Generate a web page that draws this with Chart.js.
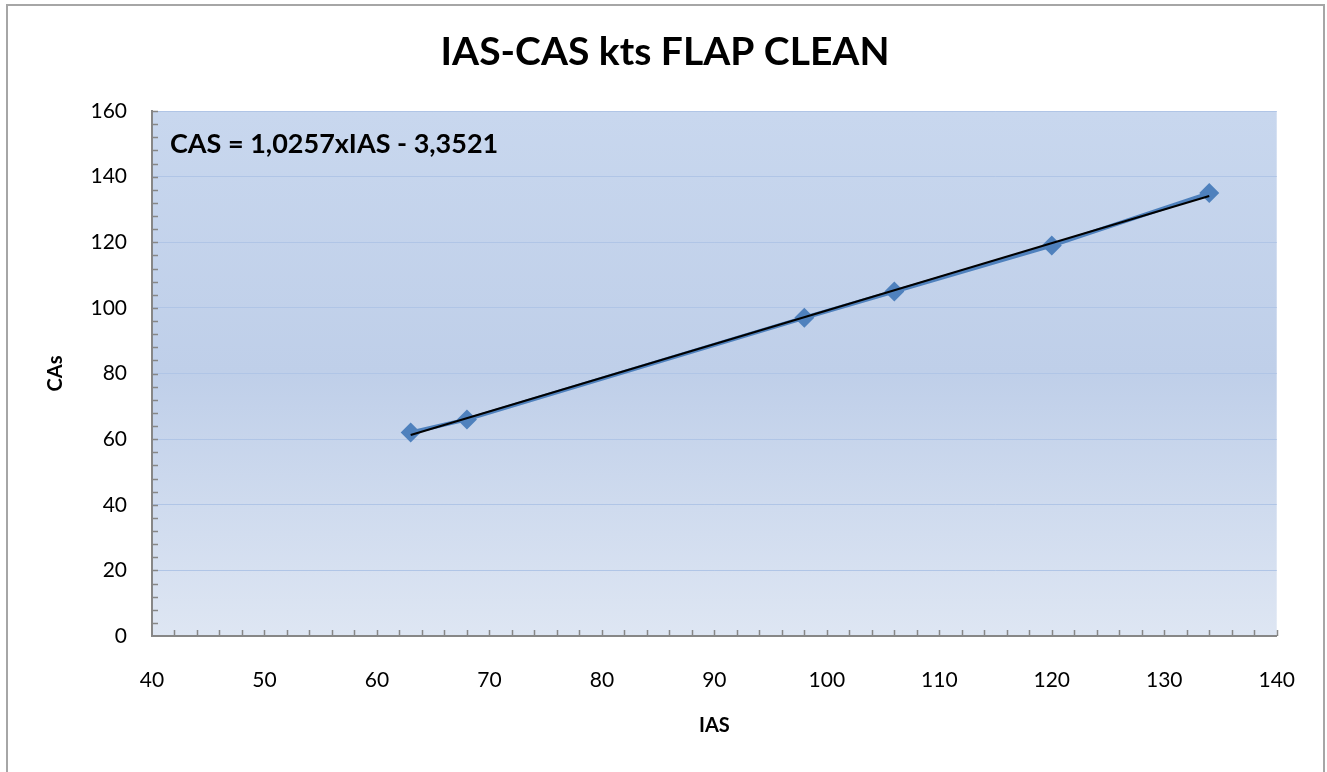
<!DOCTYPE html>
<html>
<head>
<meta charset="utf-8">
<title>IAS-CAS kts FLAP CLEAN</title>
<script src="https://cdn.jsdelivr.net/npm/chart.js@4.4.1/dist/chart.umd.min.js"></script>
<style>
  html, body { margin: 0; padding: 0; background: #fff; overflow: hidden; }
  .frame { position: absolute; left: 6px; top: 4px; width: 1315px; height: 800px; border: 2px solid #a6a6a6; }
  #chart { position: absolute; left: 0; top: 0; }
</style>
</head>
<body>
<div class="frame"></div>
<canvas id="chart" width="1327" height="772"></canvas>
<script>
// measured points, IAS vs CAS (kts)
const ias = [63, 68, 98, 106, 120, 134];
const cas = [62, 66, 97, 105, 119, 135];

// linear trend, CAS = a*IAS + b
const trendSlope = 1.0257;
const trendIntercept = -3.3521;

// axis ranges
const xRange = [40, 140];
const xStep = 10;
const xMinor = 2;
const yRange = [0, 160];
const yStep = 20;
const yMinor = 4;

const chartTitle = "IAS-CAS kts FLAP CLEAN";
const trendLabel = "CAS = " + String(trendSlope).replace(".", ",") + "xIAS - " +
  String(Math.abs(trendIntercept)).replace(".", ",");

document.addEventListener("DOMContentLoaded", () => {
  Chart.defaults.font.family = "Lato";
  const ctx = document.getElementById("chart").getContext("2d");

  // gradient fill behind the plot area
  const plotBackground = {
    id: "plotBackground",
    beforeDraw(chart) {
      const { ctx, chartArea: a } = chart;
      const g = ctx.createLinearGradient(0, a.top, 0, a.bottom);
      g.addColorStop(0, "#c8d7ee");
      g.addColorStop(0.5, "#bfcfe9");
      g.addColorStop(1, "#dee6f3");
      ctx.save();
      ctx.fillStyle = g;
      ctx.fillRect(a.left, a.top, a.right - a.left, a.bottom - a.top);
      ctx.restore();
    },
  };

  // small tick marks pointing into the plot
  const innerTicks = {
    id: "innerTicks",
    beforeDatasetsDraw(chart) {
      const { ctx, chartArea: a, scales } = chart;
      ctx.save();
      ctx.strokeStyle = "#878787";
      ctx.lineWidth = 1.5;
      ctx.beginPath();
      for (let v = xRange[0] + xMinor; v <= xRange[1] + 0.001; v += xMinor) {
        const px = Math.round(scales.x.getPixelForValue(v)) + 0.5;
        ctx.moveTo(px, a.bottom);
        ctx.lineTo(px, a.bottom - 6);
      }
      for (let v = yRange[0] + yMinor; v <= yRange[1] + 0.001; v += yMinor) {
        const py = Math.round(scales.y.getPixelForValue(v)) + 0.5;
        ctx.moveTo(a.left, py);
        ctx.lineTo(a.left + 6, py);
      }
      ctx.stroke();
      ctx.restore();
    },
  };

  // chart title centred on the whole frame, equation in the plot corner
  const labels = {
    id: "labels",
    afterDatasetsDraw(chart) {
      const { ctx, chartArea: a } = chart;
      ctx.save();
      ctx.fillStyle = "#000";
      ctx.textBaseline = "middle";
      ctx.textAlign = "center";
      ctx.font = "bold 39px Lato";
      ctx.fillText(chartTitle, 665, 52);
      ctx.textAlign = "left";
      ctx.font = "bold 27px Lato";
      ctx.fillText(trendLabel, a.left + 18, a.top + 33);
      ctx.restore();
    },
  };

  const trendX = [ias[0], ias[ias.length - 1]];

  const data = {
    datasets: [
      {
        label: "CAS",
        data: ias.map((v, i) => ({ x: v, y: cas[i] })),
        showLine: true,
        borderColor: "#4f81bd",
        backgroundColor: "#4f81bd",
        borderWidth: 4,
        pointStyle: "rectRot",
        pointRadius: 10,
        pointBorderWidth: 0,
        order: 1,
      },
      {
        label: "Trend",
        data: trendX.map((v) => ({ x: v, y: trendSlope * v + trendIntercept })),
        showLine: true,
        borderColor: "#000",
        borderWidth: 2,
        pointRadius: 0,
        order: 0,
      },
    ],
  };

  const axisFont = { size: 21 };
  const titleFont = { size: 20, weight: "bold" };

  const config = {
    type: "scatter",
    data: data,
    options: {
      responsive: false,
      animation: false,
      layout: { padding: { left: 10, right: 48, top: 111, bottom: 0 } },
      plugins: {
        legend: { display: false },
        tooltip: { enabled: false },
        title: { display: false },
      },
      scales: {
        x: {
          type: "linear",
          min: xRange[0],
          max: xRange[1],
          ticks: { stepSize: xStep, color: "#000", font: axisFont, padding: 32 },
          grid: { display: false, drawTicks: false },
          border: { display: true, color: "#878787", width: 2 },
          title: { display: true, text: "IAS", color: "#000", font: titleFont, padding: { top: 0, bottom: 34 } },
          afterFit: (s) => { s.height = 136; },
        },
        y: {
          type: "linear",
          min: yRange[0],
          max: yRange[1],
          ticks: { stepSize: yStep, color: "#000", font: axisFont, padding: 25 },
          grid: { color: "#b0c5e6", lineWidth: 1, drawTicks: false },
          border: { display: true, color: "#878787", width: 2 },
          title: { display: true, text: "CAs", color: "#000", font: titleFont, padding: { top: 34, bottom: 0 } },
          afterFit: (s) => { s.width = 142; },
        },
      },
    },
    plugins: [plotBackground, innerTicks, labels],
  };

  new Chart(ctx, config);
});
</script>
</body>
</html>
